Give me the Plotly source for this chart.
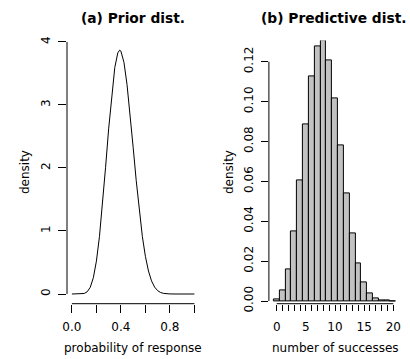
import plotly.graph_objects as go

# Prior density of the probability of response
prob_response = [0.0, 0.025, 0.05, 0.075, 0.1, 0.125, 0.15, 0.175, 0.2, 0.225,
                 0.25, 0.275, 0.3, 0.325, 0.35, 0.375, 0.39, 0.4, 0.425, 0.45,
                 0.475, 0.5, 0.525, 0.55, 0.575, 0.6, 0.625, 0.65, 0.675, 0.7,
                 0.725, 0.75, 0.775, 0.8, 0.85, 0.9, 0.95, 1.0]
prior_density = [0.0, 0.0, 0.0001, 0.001, 0.008, 0.035, 0.107, 0.258, 0.521, 0.912,
                 1.421, 2.012, 2.621, 3.172, 3.593, 3.829, 3.870, 3.855, 3.676, 3.325,
                 2.856, 2.329, 1.802, 1.321, 0.915, 0.597, 0.365, 0.208, 0.110, 0.053,
                 0.023, 0.009, 0.003, 0.001, 0.0, 0.0, 0.0, 0.0]

# Predictive distribution of the number of successes in 20 patients
successes = list(range(21))
predictive_prob = [0.0010, 0.0052, 0.0160, 0.0347, 0.0603, 0.0884, 0.1128, 0.1278,
                   0.1305, 0.1207, 0.1015, 0.0778, 0.0542, 0.0338, 0.0188, 0.0093,
                   0.0038, 0.0015, 0.0005, 0.0001, 0.0000]

left_xticks = [0.0, 0.2, 0.4, 0.6, 0.8, 1.0]
left_xlabels = ["0.0", "", "0.4", "", "0.8", ""]
left_yticks = [0, 1, 2, 3, 4]
right_xticks = list(range(21))
right_xlabels = [str(v) if v % 5 == 0 else "" for v in right_xticks]
right_yticks = [0.0, 0.02, 0.04, 0.06, 0.08, 0.10, 0.12]
right_ylabels = ["%.2f" % v for v in right_yticks]

FONT = "DejaVu Sans"
W, H = 410, 359

fig = go.Figure()
fig.add_trace(go.Scatter(
    x=prob_response, y=prior_density, mode="lines",
    line=dict(color="black", width=1),
    xaxis="x", yaxis="y", showlegend=False, hoverinfo="skip"))
fig.add_trace(go.Bar(
    x=successes, y=predictive_prob, width=1,
    marker=dict(color="#C2C2C2", line=dict(color="black", width=1)),
    xaxis="x2", yaxis="y2", showlegend=False, hoverinfo="skip"))

ydom = [1 - 303.7 / H, 1 - 40.4 / H]
tickfont = dict(family=FONT, size=12, color="black")
common = dict(showgrid=False, zeroline=False, showline=False, ticks="outside",
              tickcolor="black", tickwidth=1, tickfont=tickfont, automargin=False,
              fixedrange=True)

fig.update_layout(
    width=W, height=H,
    margin=dict(l=0, r=0, t=0, b=0),
    paper_bgcolor="white", plot_bgcolor="white",
    bargap=0,
    font=dict(family=FONT, color="black"),
    xaxis=dict(domain=[67 / W, 199.3 / W], range=[-0.04, 1.04], anchor="y",
               tickmode="array", tickvals=left_xticks, ticktext=left_xlabels,
               ticklen=8, ticklabelstandoff=4, **common),
    yaxis=dict(domain=ydom, range=[-0.154, 4.025], anchor="x",
               tickmode="array", tickvals=left_yticks,
               ticktext=[str(v) for v in left_yticks],
               tickangle=-90, ticklen=8, ticklabelstandoff=3, **common),
    xaxis2=dict(domain=[268.9 / W, 401.1 / W], range=[-1.34, 21.34], anchor="y2",
                tickmode="array", tickvals=right_xticks, ticktext=right_xlabels,
                ticklen=6, ticklabelstandoff=6, **common),
    yaxis2=dict(domain=ydom, range=[-0.00135, 0.1307], anchor="x2",
                tickmode="array", tickvals=right_yticks, ticktext=right_ylabels,
                tickangle=-90, ticklen=7, ticklabelstandoff=3, **common),
)

# R-style axis lines running only between the first and last ticks
axis_line = dict(color="black", width=1)
fig.add_shape(type="line", xref="x", yref="y domain", x0=0, x1=1, y0=0, y1=0, line=axis_line)
fig.add_shape(type="line", xref="x domain", yref="y", x0=0, x1=0, y0=0, y1=4, line=axis_line)
fig.add_shape(type="line", xref="x2", yref="y2 domain", x0=0, x1=20, y0=0, y1=0, line=axis_line)
fig.add_shape(type="line", xref="x2 domain", yref="y2", x0=0, x1=0, y0=0, y1=0.12, line=axis_line)

title_font = dict(family=FONT, size=13.8, color="black")
label_font = dict(family=FONT, size=12, color="black")
fig.add_annotation(text="<b>(a) Prior dist.</b>", xref="paper", yref="paper",
                   x=133 / W, y=1 - 18.3 / H, xanchor="center", yanchor="middle",
                   showarrow=False, font=title_font)
fig.add_annotation(text="<b>(b) Predictive dist.</b>", xref="paper", yref="paper",
                   x=333.5 / W, y=1 - 18.3 / H, xanchor="center", yanchor="middle",
                   showarrow=False, font=title_font)
fig.add_annotation(text="probability of response", xref="x domain", yref="paper",
                   x=0.5, y=1 - 348 / H, xanchor="center", yanchor="middle",
                   showarrow=False, font=label_font)
fig.add_annotation(text="number of successes", xref="x2 domain", yref="paper",
                   x=0.5, y=1 - 348 / H, xanchor="center", yanchor="middle",
                   showarrow=False, font=label_font)
fig.add_annotation(text="density", xref="paper", yref="y domain",
                   x=25 / W, y=0.5, xanchor="center", yanchor="middle",
                   textangle=-90, showarrow=False, font=label_font)
fig.add_annotation(text="density", xref="paper", yref="y2 domain",
                   x=229 / W, y=0.5, xanchor="center", yanchor="middle",
                   textangle=-90, showarrow=False, font=label_font)

fig.write_html("out.html")
